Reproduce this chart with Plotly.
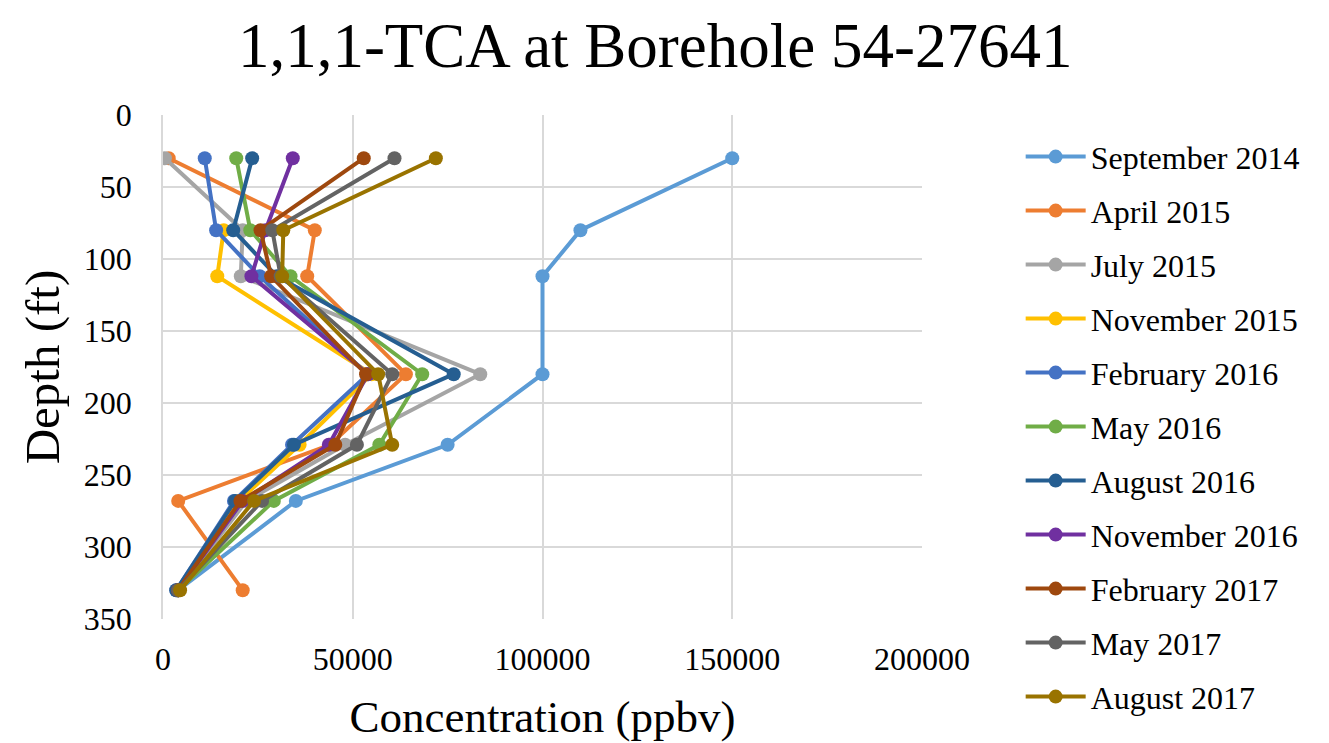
import plotly.graph_objects as go

depths = [30, 80, 112, 180, 229, 268, 330]

series_names = ["September 2014", "April 2015", "July 2015", "November 2015",
                "February 2016", "May 2016", "August 2016", "November 2016",
                "February 2017", "May 2017", "August 2017"]

sep_2014 = [150000, 110000, 100000, 100000, 75000, 35000, 4000]
apr_2015 = [1500, 40000, 38000, 64000, 44000, 4000, 21000]
jul_2015 = [500, 21000, 20500, 83600, 48000, 22000, 4000]
nov_2015 = [None, 16000, 14300, 55000, 36000, 20000, 4000]
feb_2016 = [11000, 14000, 25500, 54000, 34000, 18700, 3500]
may_2016 = [19300, 23000, 33600, 68300, 57000, 29200, 4000]
aug_2016 = [23500, 18500, 30000, 76600, 34500, 19000, 3500]
nov_2016 = [34200, 27000, 23300, 54000, 43700, 21000, 4000]
feb_2017 = [52900, 25700, 28500, 53500, 45400, 20400, 4000]
may_2017 = [61000, 28800, 31000, 60400, 51100, 26100, 4000]
aug_2017 = [71900, 31700, 31400, 56700, 60400, 24000, 4500]

all_series = [sep_2014, apr_2015, jul_2015, nov_2015, feb_2016, may_2016,
              aug_2016, nov_2016, feb_2017, may_2017, aug_2017]

colors = ["#5B9BD5", "#ED7D31", "#A5A5A5", "#FFC000", "#4472C4", "#70AD47",
          "#255E91", "#7030A0", "#9E480E", "#636363", "#997300"]

FONT = "Liberation Serif, Times New Roman, serif"

fig = go.Figure()
for i, (name, vals, col) in enumerate(zip(series_names, all_series, colors)):
    fig.add_trace(go.Scatter(
        x=vals, y=depths, name=name, mode="lines+markers",
        line=dict(color=col, width=4),
        marker=dict(color=col, size=14),
        connectgaps=False,
        legendgroup="g%d" % i,
    ))

fig.update_layout(
    width=1329, height=743,
    margin=dict(l=163, r=407, t=115, b=124, autoexpand=False),
    paper_bgcolor="white", plot_bgcolor="white",
    title=dict(text="1,1,1-TCA at Borehole 54-27641", x=0.493, xanchor="center",
               y=0.94, yanchor="middle",
               font=dict(family=FONT, size=63, color="black")),
    font=dict(family=FONT, color="black"),
    legend=dict(x=1.13, xanchor="left", yref="container", y=0.826, yanchor="top",
                font=dict(family=FONT, size=32, color="black"),
                traceorder="grouped", tracegroupgap=9.4, itemwidth=60,
                maxheight=743,
                bgcolor="rgba(0,0,0,0)"),
    showlegend=True,
)
fig.update_xaxes(range=[0, 200000], dtick=50000, tick0=0, automargin=False,
                 showgrid=True, gridcolor="#D9D9D9", gridwidth=1.5,
                 zeroline=False, showline=False, ticks="",
                 tickformat="d", ticklabelstandoff=18,
                 tickfont=dict(family=FONT, size=32, color="black"),
                 title=dict(text="Concentration (ppbv)",
                            font=dict(family=FONT, size=45, color="black"),
                            standoff=24))
fig.update_yaxes(range=[350, 0], dtick=50, tick0=0, automargin=False,
                 showgrid=True, gridcolor="#D9D9D9", gridwidth=1.5,
                 zeroline=False, showline=True, linecolor="#D9D9D9", linewidth=1.5,
                 mirror=False, ticks="", ticklen=0, ticklabelstandoff=23,
                 tickfont=dict(family=FONT, size=32, color="black"),
                 title=dict(text="Depth (ft)",
                            font=dict(family=FONT, size=49, color="black"),
                            standoff=9))
fig.write_html("out.html")
